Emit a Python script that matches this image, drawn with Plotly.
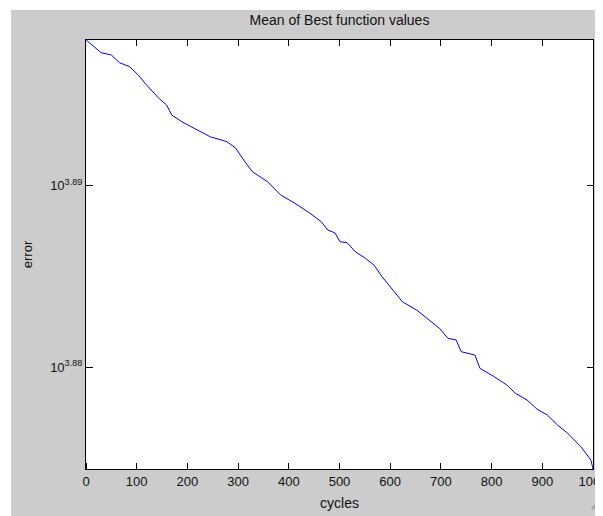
import numpy as np
import plotly.graph_objects as go

# Data (cycle, mean best error)
cycles = [0, 30, 50, 66, 86, 103, 116, 129, 143, 159, 169, 189, 219, 245, 278, 295,
          311, 328, 358, 384, 411, 441, 464, 477, 491, 501, 515, 531, 551, 568, 584,
          607, 624, 654, 677, 697, 714, 730, 740, 767, 777, 803, 830, 847, 870, 890,
          910, 930, 950, 976, 996, 1000]
error = [7907.2, 7894.5, 7892.2, 7884.5, 7880.5, 7872.2, 7864.2, 7857.2, 7849.3, 7842.3,
         7832.4, 7825.7, 7817.5, 7810.8, 7805.9, 7799.7, 7787.8, 7776.3, 7766.4, 7753.3,
         7745.5, 7735.7, 7727.1, 7719.0, 7716.1, 7707.5, 7706.6, 7697.8, 7691.4, 7684.8,
         7673.4, 7658.8, 7649.1, 7640.4, 7631.4, 7623.4, 7613.7, 7612.1, 7600.8, 7597.6,
         7584.8, 7577.4, 7568.8, 7560.8, 7554.4, 7545.5, 7540.0, 7530.5, 7522.6, 7509.8,
         7497.0, 7488.6]

x_ticks = [0, 100, 200, 300, 400, 500, 600, 700, 800, 900, 1000]
x_tick_labels = [str(v) for v in x_ticks]
y_tick_exps = [3.88, 3.89]
y_tick_labels = ["10<sup>%.2f</sup>" % e for e in y_tick_exps]

FONT = "Liberation Sans"
GRAY = "#cccccc"
TXT = "#111111"

fig = go.Figure()
fig.add_trace(go.Scatter(
    x=cycles, y=error, mode="lines",
    line=dict(color="#0000ff", width=1),
    showlegend=False, hoverinfo="skip",
))
# invisible copy on the overlay axes (used only to draw the bottom/left tick marks)
fig.add_trace(go.Scatter(
    x=cycles, y=error, mode="lines", xaxis="x2", yaxis="y2",
    line=dict(color="rgba(0,0,0,0)", width=1), opacity=0,
    showlegend=False, hoverinfo="skip",
))

# The page body has an 8px default margin, so the figure is sized to fit
OFF = 8
W, H = 603 - OFF, 516 - OFF
L, R, T, B = 86 - OFF, 10, 40 - OFF, 47
pw, ph = W - L - R, H - T - B

def px_x(p):
    return (p - L) / pw

def px_y(p):
    return (H - B - p) / ph

shapes = [
    # white strips outside the figure window (top and left)
    dict(type="rect", xref="paper", yref="paper", x0=px_x(-5), x1=px_x(W + 5),
         y0=px_y(10 - OFF), y1=px_y(-5), fillcolor="white", line=dict(width=0), layer="below"),
    dict(type="rect", xref="paper", yref="paper", x0=px_x(-5), x1=px_x(11 - OFF),
         y0=px_y(H + 5), y1=px_y(-5), fillcolor="white", line=dict(width=0), layer="below"),
    # resize grip
    dict(type="line", xref="paper", yref="paper", x0=px_x(592 - OFF), y0=px_y(509 - OFF),
         x1=px_x(603 - OFF), y1=px_y(498 - OFF), line=dict(color="#a8a8a8", width=3)),
]

lo, hi = np.log10(min(error)), np.log10(max(error))

tick_style = dict(
    ticklen=6, tickcolor="#000000", tickwidth=1,
    showgrid=False, zeroline=False, layer="above traces", automargin=False,
)

fig.update_layout(
    template="none",
    width=W, height=H,
    margin=dict(l=L, r=R, t=T, b=B, pad=0),
    paper_bgcolor=GRAY, plot_bgcolor="white",
    font=dict(family=FONT, size=13, color=TXT),
    title=dict(text="Mean of Best function values", x=(339.5 - OFF) / W,
               xanchor="center", y=1 - (20 - OFF) / H, yanchor="middle",
               font=dict(family=FONT, size=14, color=TXT)),
    shapes=shapes,
    xaxis=dict(
        range=[0, 1000], tickmode="array", tickvals=x_ticks, ticktext=x_tick_labels,
        ticklabeloverflow="allow", ticks="inside", mirror="allticks",
        showline=True, linecolor="#000000", linewidth=1.2,
        tickfont=dict(family=FONT, size=13, color=TXT),
        title=dict(text="cycles", standoff=10, font=dict(family=FONT, size=14, color=TXT)),
        **tick_style,
    ),
    yaxis=dict(
        type="log", range=[lo, hi], tickmode="array",
        tickvals=[10 ** e for e in y_tick_exps], ticktext=y_tick_labels,
        ticks="inside", mirror="allticks",
        showline=True, linecolor="#000000", linewidth=1.2,
        tickfont=dict(family=FONT, size=13, color=TXT),
        title=dict(text="error", standoff=14, font=dict(family=FONT, size=13, color=TXT)),
        **tick_style,
    ),
    # bottom-edge ticks pointing up into the plot
    xaxis2=dict(
        overlaying="x", anchor="free", position=0, side="top",
        range=[0, 1000], tickmode="array", tickvals=x_ticks, ticks="outside",
        showticklabels=False, showline=False,
        **tick_style,
    ),
    # left-edge ticks pointing right into the plot
    yaxis2=dict(
        overlaying="y", anchor="free", position=0, side="right",
        type="log", range=[lo, hi], tickmode="array",
        tickvals=[10 ** e for e in y_tick_exps], ticks="outside",
        showticklabels=False, showline=False,
        **tick_style,
    ),
)

fig.write_html("out.html")
